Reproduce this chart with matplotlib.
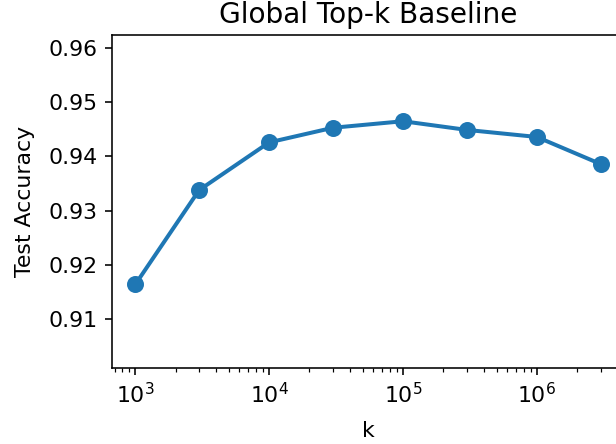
import matplotlib
matplotlib.use("Agg")
from matplotlib import pyplot as plt

# top-k sweep
k_vals = [1e3, 3e3, 1e4, 3e4, 1e5, 3e5, 1e6, 3e6]
test_acc = [0.9164, 0.9338, 0.9426, 0.9453, 0.9465, 0.9449, 0.9436, 0.9386]

plt.rcParams['font.size'] = 11

fig = plt.figure(figsize=(616 / 144, 444 / 144), dpi=144)
# axes runs a little past the right edge, like the original crop
ax = fig.add_axes([112 / 616, 76 / 444, 512 / 616, 333 / 444])
ax.plot(k_vals, test_acc, marker='o', markersize=7.5, linewidth=2, color='#1f77b4')
ax.set_xscale('log')
ax.set_ylim(0.9010, 0.9624)
ax.set_yticks([0.91, 0.92, 0.93, 0.94, 0.95, 0.96])
ax.set_xlabel('k', labelpad=7)
ax.set_ylabel('Test Accuracy', labelpad=7)
ax.set_title('Global Top-k Baseline', fontsize=14)

fig.savefig('out.png', dpi=144)
